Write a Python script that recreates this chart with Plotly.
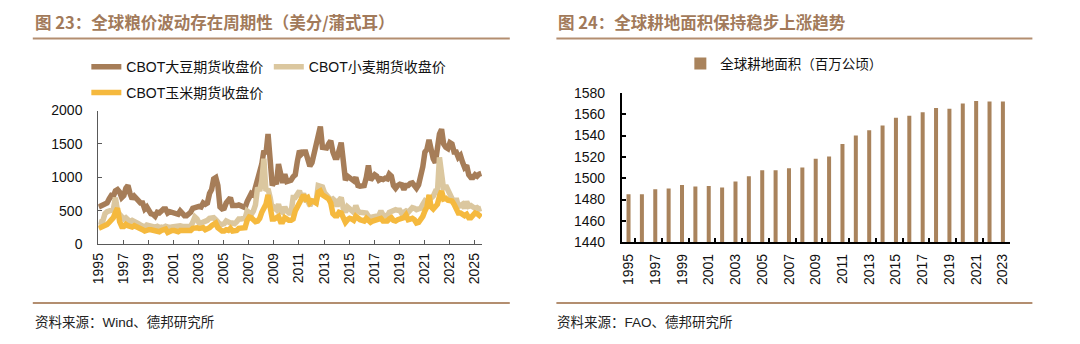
import plotly.graph_objects as go

# ---------------- data ----------------
# CBOT futures closing prices, cents/bushel, sampled every two months (Jan, Mar, May, Jul, Sep, Nov)
start_year = 1995
soy = [
    560, 580, 580, 600, 620, 680,      # 1995
    730, 720, 800, 820, 780, 700,      # 1996
    730, 840, 880, 760, 680, 720,      # 1997
    680, 640, 620, 620, 530, 560,      # 1998
    500, 460, 450, 420, 480, 470,      # 1999
    500, 530, 530, 470, 490, 480,      # 2000
    460, 440, 450, 500, 470, 430,      # 2001
    430, 450, 480, 540, 550, 570,      # 2002
    570, 560, 620, 600, 620, 760,      # 2003
    820, 980, 1000, 880, 560, 530,     # 2004
    540, 620, 660, 700, 580, 570,      # 2005
    580, 590, 580, 580, 550, 640,      # 2006
    700, 760, 740, 860, 940, 1030,     # 2007
    1200, 1400, 1350, 1650, 1100, 880, # 2008
    950, 900, 1200, 1000, 920, 1050,   # 2009
    940, 950, 960, 1010, 1040, 1240,   # 2010
    1400, 1350, 1380, 1380, 1300, 1170,# 2011
    1220, 1350, 1450, 1600, 1760, 1450,# 2012
    1450, 1440, 1500, 1550, 1380, 1300,# 2013
    1300, 1420, 1520, 1250, 960, 1020, # 2014
    990, 980, 950, 1000, 880, 870,     # 2015
    880, 880, 1000, 1180, 960, 1000,   # 2016
    1040, 1020, 960, 980, 970, 990,    # 2017
    980, 1050, 1020, 880, 840, 880,    # 2018
    900, 890, 820, 880, 880, 910,      # 2019
    920, 880, 840, 890, 1000, 1160,    # 2020
    1380, 1420, 1560, 1400, 1280, 1220,# 2021
    1450, 1650, 1720, 1500, 1450, 1430,# 2022
    1520, 1500, 1380, 1380, 1300, 1330,# 2023
    1230, 1150, 1180, 1040, 1000, 1000,# 2024
    1040, 1020, 1050, 1060,            # 2025
]
wheat = [
    340, 330, 350, 460, 490, 500,      # 1995
    510, 520, 700, 500, 450, 420,      # 1996
    380, 400, 380, 340, 360, 350,      # 1997
    330, 310, 290, 270, 260, 290,      # 1998
    280, 260, 250, 260, 270, 250,      # 1999
    260, 250, 270, 250, 250, 260,      # 2000
    270, 260, 280, 280, 270, 270,      # 2001
    280, 280, 270, 330, 410, 380,      # 2002
    320, 320, 330, 330, 360, 390,      # 2003
    390, 400, 370, 320, 300, 300,      # 2004
    310, 350, 330, 320, 320, 310,      # 2005
    340, 380, 380, 390, 390, 500,      # 2006
    460, 450, 500, 590, 850, 800,      # 2007
    950, 1280, 800, 830, 700, 520,     # 2008
    550, 520, 600, 500, 480, 560,      # 2009
    500, 470, 470, 700, 700, 760,      # 2010
    800, 700, 760, 660, 650, 580,      # 2011
    640, 650, 640, 880, 880, 860,      # 2012
    770, 720, 700, 660, 680, 650,      # 2013
    570, 660, 700, 540, 480, 560,      # 2014
    530, 500, 480, 580, 500, 480,      # 2015
    480, 470, 470, 420, 400, 410,      # 2016
    420, 440, 430, 500, 440, 430,      # 2017
    420, 480, 500, 500, 520, 510,      # 2018
    510, 460, 470, 500, 480, 530,      # 2019
    550, 540, 520, 530, 540, 600,      # 2020
    650, 630, 700, 690, 720, 790,      # 2021
    780, 1300, 1100, 820, 880, 820,    # 2022
    740, 690, 620, 690, 570, 580,      # 2023
    600, 540, 640, 570, 580, 560,      # 2024
    540, 550, 530, 540,                # 2025
]
corn = [
    240, 250, 260, 280, 300, 330,      # 1995
    360, 400, 480, 540, 340, 270,      # 1996
    270, 300, 280, 260, 260, 280,      # 1997
    270, 260, 240, 220, 200, 220,      # 1998
    220, 220, 210, 210, 200, 190,      # 1999
    210, 220, 230, 180, 200, 210,      # 2000
    210, 200, 190, 210, 210, 210,      # 2001
    210, 200, 210, 240, 250, 250,      # 2002
    240, 240, 250, 220, 230, 250,      # 2003
    280, 310, 320, 250, 210, 200,      # 2004
    200, 220, 210, 240, 200, 200,      # 2005
    210, 240, 250, 240, 250, 360,      # 2006
    410, 400, 370, 340, 350, 390,      # 2007
    480, 560, 600, 740, 500, 380,      # 2008
    380, 410, 420, 340, 340, 400,      # 2009
    370, 360, 360, 380, 500, 560,      # 2010
    650, 680, 740, 680, 700, 620,      # 2011
    650, 640, 620, 780, 800, 740,      # 2012
    720, 720, 680, 620, 460, 430,      # 2013
    430, 480, 470, 400, 330, 370,      # 2014
    390, 380, 360, 420, 380, 370,      # 2015
    360, 350, 390, 360, 330, 350,      # 2016
    360, 370, 370, 390, 350, 350,      # 2017
    350, 380, 400, 360, 350, 370,      # 2018
    380, 370, 400, 440, 370, 380,      # 2019
    390, 370, 320, 330, 370, 420,      # 2020
    500, 560, 740, 560, 530, 570,      # 2021
    600, 720, 800, 680, 690, 660,      # 2022
    660, 650, 600, 520, 470, 470,      # 2023
    450, 430, 450, 400, 400, 430,      # 2024
    470, 460, 440, 410,                # 2025
]
price_tick_years = list(range(1995, 2026, 2))

# Global arable land area, million hectares
land_years = list(range(1995, 2024))
land_area = [1485, 1485, 1489.6, 1490.5, 1493.7, 1492.2, 1492.8, 1491.3, 1497, 1501.8,
             1507.5, 1507.5, 1509.3, 1510.1, 1518.2, 1520.3, 1532, 1540, 1545, 1549.5,
             1556.7, 1558.5, 1561.8, 1565.8, 1565.2, 1570, 1572.4, 1571.8, 1571.8]
land_tick_years = list(range(1995, 2024, 2))

# ---------------- build ----------------
def dates_for(values):
    return [f"{start_year + i // 6}-{1 + 2 * (i % 6):02d}-15" for i in range(len(values))]

W, H = 1080, 344
def px(x):
    return x / W
def py(y):
    return (H - y) / H

C_SOY = "#A67D58"
C_WHEAT = "#DBC79F"
C_CORN = "#F5B93E"
C_BAR = "#A9835C"
C_TITLE = "#A27A5A"
C_RULE = "#B38E70"
TICKFONT = dict(family="Liberation Sans, Arial, sans-serif", size=14, color="#111111")
CJK = "Liberation Sans, Noto Sans CJK SC, sans-serif"
LW = 5.5

fig = go.Figure()
fig.add_trace(go.Scatter(x=dates_for(soy), y=soy, mode="lines", name="CBOT大豆期货收盘价",
                         line=dict(color=C_SOY, width=LW), legend="legend", xaxis="x", yaxis="y"))
fig.add_trace(go.Scatter(x=dates_for(wheat), y=wheat, mode="lines", name="CBOT小麦期货收盘价",
                         line=dict(color=C_WHEAT, width=LW), legend="legend2", xaxis="x", yaxis="y"))
fig.add_trace(go.Scatter(x=dates_for(corn), y=corn, mode="lines", name="CBOT玉米期货收盘价",
                         line=dict(color=C_CORN, width=LW), legend="legend3", xaxis="x", yaxis="y"))
fig.add_trace(go.Bar(x=land_years, y=land_area, name="全球耕地面积（百万公顷）", width=0.3,
                     marker=dict(color=C_BAR, line=dict(width=0)), legend="legend4",
                     xaxis="x2", yaxis="y2"))

legend_common = dict(orientation="h", xanchor="left", yanchor="middle", bgcolor="rgba(0,0,0,0)",
                     borderwidth=0, xref="paper", yref="paper")
LEGFONT = dict(family=CJK, size=14, color="#111111")

fig.update_layout(
    width=W, height=H, margin=dict(l=0, r=0, t=0, b=0),
    paper_bgcolor="white", plot_bgcolor="white",
    showlegend=True,
    legend=dict(x=px(79), y=py(62), font=LEGFONT, **legend_common),
    legend2=dict(x=px(263), y=py(62), font=LEGFONT, **legend_common),
    legend3=dict(x=px(79), y=py(89), font=LEGFONT, **legend_common),
    legend4=dict(x=px(678), y=py(58.5), font=dict(family=CJK, size=13.5, color="#111111"),
                 **legend_common),
    xaxis=dict(domain=[px(91), px(478)], anchor="y", type="date",
               range=["1995-01-01", "2025-08-05"],
               tickmode="array",
               tickvals=[f"{y}-01-01" for y in price_tick_years],
               ticktext=[str(y) for y in price_tick_years],
               tickangle=-90, ticks="inside", ticklen=4, tickcolor="#595959",
               showline=True, linecolor="#595959", linewidth=1,
               showgrid=False, zeroline=False, ticklabelstandoff=2,
               tickfont=dict(family=TICKFONT["family"], size=14, color="#111111")),
    yaxis=dict(domain=[py(248), py(107.5)], anchor="x", range=[0, 2000], dtick=500,
               ticks="inside", ticklen=4, tickcolor="#595959",
               showline=True, linecolor="#595959", linewidth=1,
               showgrid=False, zeroline=False, ticklabelstandoff=12,
               tickfont=TICKFONT),
    xaxis2=dict(domain=[px(619), px(1010)], anchor="y2", range=[1994.5, 2023.5],
                tickmode="array", tickvals=land_tick_years,
                ticktext=[str(y) for y in land_tick_years],
                tickangle=-90, ticks="",
                minor=dict(ticks="inside", ticklen=4, tickcolor="#000000", tickwidth=1.5,
                           tickmode="array",
                           tickvals=[y + 0.5 for y in land_tick_years[:-1]]),
                showline=True, linecolor="#000000", linewidth=2,
                showgrid=False, zeroline=False, ticklabelstandoff=4,
                tickfont=dict(family=TICKFONT["family"], size=14, color="#111111")),
    yaxis2=dict(domain=[py(245.7), py(89)], anchor="x2", range=[1440, 1580], dtick=20,
                ticks="inside", ticklen=4, tickcolor="#000000", tickwidth=1.5,
                showline=True, linecolor="#000000", linewidth=2,
                showgrid=False, zeroline=False, ticklabelstandoff=12,
                tickfont=TICKFONT),
)

annotations = [
    dict(text="<b>图 23：全球粮价波动存在周期性（美分/蒲式耳）</b>", x=px(25), y=py(15)),
    dict(text="<b>图 24：全球耕地面积保持稳步上涨趋势</b>", x=px(553), y=py(15)),
]
for a in annotations:
    fig.add_annotation(xref="paper", yref="paper", xanchor="left", yanchor="middle",
                       showarrow=False, text=a["text"], x=a["x"], y=a["y"],
                       font=dict(family="Noto Sans CJK SC", size=16.5, color=C_TITLE))
sources = [
    dict(text="资料来源：Wind、德邦研究所", x=px(25), y=py(330)),
    dict(text="资料来源：FAO、德邦研究所", x=px(552), y=py(330)),
]
for a in sources:
    fig.add_annotation(xref="paper", yref="paper", xanchor="left", yanchor="middle",
                       showarrow=False, text=a["text"], x=a["x"], y=a["y"],
                       font=dict(family=CJK, size=13.5, color="#222222"))

rules = [(25, 506, 32), (25, 506, 309.5), (553, 1033, 32), (553, 1033, 309.5)]
for x0, x1, y in rules:
    fig.add_shape(type="line", xref="paper", yref="paper",
                  x0=px(x0), x1=px(x1), y0=py(y), y1=py(y),
                  line=dict(color=C_RULE, width=2))

fig.write_html("out.html")
